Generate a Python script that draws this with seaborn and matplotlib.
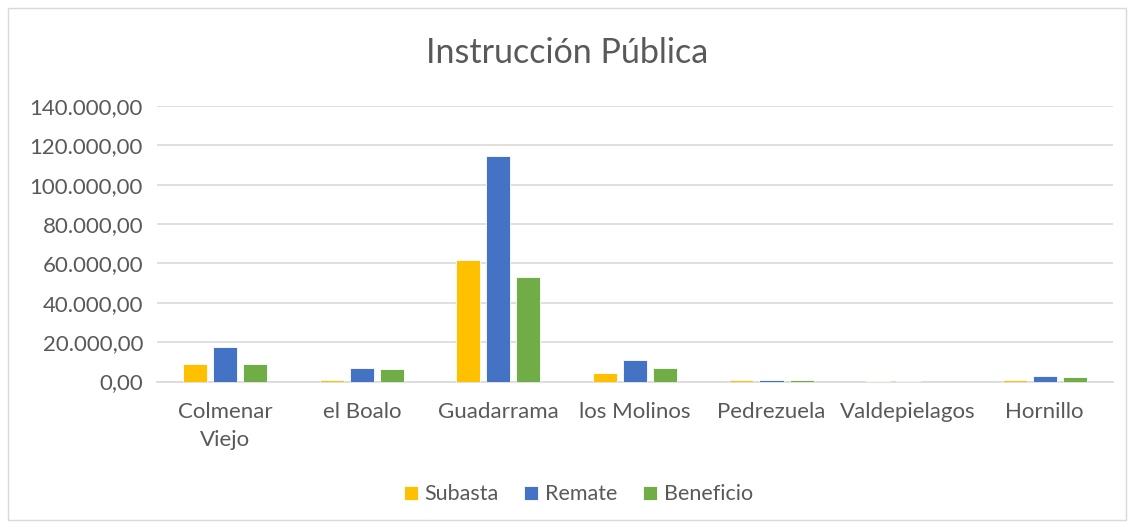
import matplotlib
matplotlib.use("Agg")
import matplotlib.pyplot as plt
import matplotlib.ticker as mticker
import pandas as pd
import seaborn as sns

municipios = ["Colmenar\nViejo", "el Boalo", "Guadarrama", "los Molinos",
              "Pedrezuela", "Valdepielagos", "Hornillo"]
subasta = [8800, 700, 61700, 4200, 600, 500, 700]
remate = [17400, 6700, 114600, 11000, 1000, 500, 2700]
beneficio = [8900, 6200, 53200, 7100, 600, 0, 2300]
series = ["Subasta", "Remate", "Beneficio"]
colores = ["#FFC000", "#4472C4", "#70AD47"]

df = pd.DataFrame({
    "municipio": municipios * 3,
    "serie": [s for s in series for _ in municipios],
    "valor": subasta + remate + beneficio,
})

sns.set_theme(style="white")
plt.rcParams["font.family"] = ["Lato", "DejaVu Sans"]
gris = "#595959"

fig = plt.figure(figsize=(11.34, 5.27), dpi=100)
ax = fig.add_axes([0.1384, 0.276, 0.843, 0.523])

sns.barplot(data=df, x="municipio", y="valor", hue="serie", order=municipios,
            hue_order=series, palette=colores, saturation=1, width=0.66, gap=0.2,
            edgecolor="white", linewidth=0.6, ax=ax, zorder=3)

ax.set_ylim(0, 140000)
ax.set_yticks(range(0, 140001, 20000))
ax.yaxis.set_major_formatter(mticker.FuncFormatter(
    lambda v, p: f"{v:,.2f}".replace(",", "X").replace(".", ",").replace("X", ".")))
ax.grid(axis="y", color="#d9d9d9", linewidth=1.2, zorder=0)
ax.tick_params(axis="y", length=0, labelsize=16, labelcolor=gris, pad=10)
ax.tick_params(axis="x", length=0, labelsize=16, labelcolor=gris, pad=15)
for lbl in ax.get_xticklabels():
    lbl.set_linespacing(1.45)
ax.set_xlabel("")
ax.set_ylabel("")
for s in ["top", "right", "left"]:
    ax.spines[s].set_visible(False)
ax.spines["bottom"].set_color("#d9d9d9")
ax.spines["bottom"].set_linewidth(1.2)

fig.text(0.5, 0.9, "Instrucción Pública", ha="center", va="center",
         fontsize=24.5, color=gris)

ax.legend(loc="center", bbox_to_anchor=(0.51, 0.062), bbox_transform=fig.transFigure,
          ncol=3, frameon=False, fontsize=15.5, labelcolor=gris,
          handlelength=0.65, handleheight=0.65, handletextpad=0.3, columnspacing=1.2)

fig.patches.append(plt.Rectangle((0.007, 0.013), 0.986, 0.972, transform=fig.transFigure,
                                 fill=False, edgecolor="#d9d9d9", linewidth=1))

fig.savefig("out.png", dpi=100)
plt.close(fig)
